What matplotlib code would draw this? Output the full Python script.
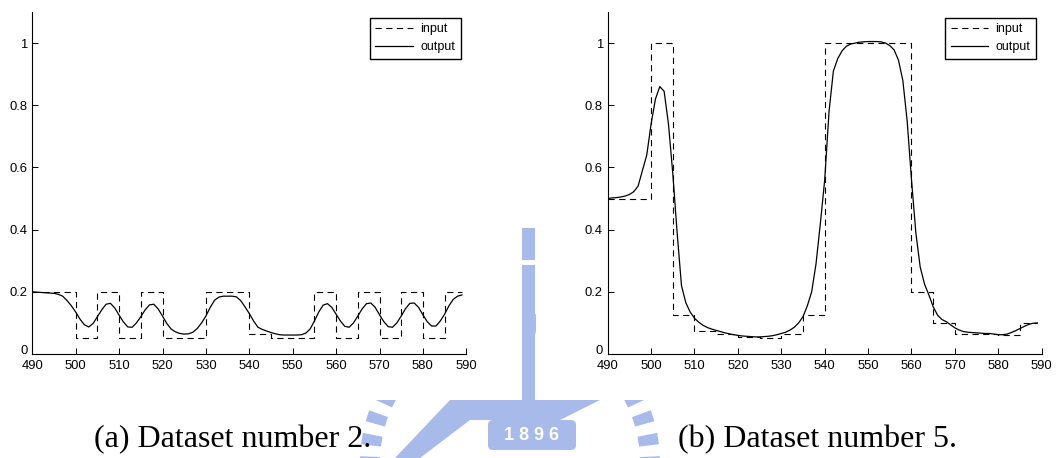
import numpy as np
import matplotlib
matplotlib.use("Agg")
import matplotlib.pyplot as plt
import matplotlib.transforms as mtransforms
from matplotlib.patches import Rectangle, FancyBboxPatch, Polygon

plt.rcParams["font.family"] = ["Liberation Sans", "DejaVu Sans"]
plt.rcParams["lines.scale_dashes"] = False

# ---- sample index shared by both datasets ----
x = np.arange(490, 590)

# ---- dataset 2 : step input (edges / levels) and network output ----
in2_edges = [490, 500, 505, 510, 515, 520, 530, 540, 545, 555, 560, 565, 570, 575, 580, 585, 589]
in2_levels = [0.2, 0.05, 0.2, 0.05, 0.2, 0.05, 0.2, 0.065, 0.05, 0.2, 0.05, 0.2, 0.05, 0.2, 0.05, 0.2]
out2 = [
    0.200, 0.199, 0.198, 0.197, 0.196, 0.195, 0.192, 0.186, 0.172, 0.155,
    0.135, 0.112, 0.094, 0.087, 0.098, 0.120, 0.142, 0.160, 0.163, 0.148,
    0.125, 0.103, 0.087, 0.086, 0.100, 0.120, 0.142, 0.158, 0.160, 0.145,
    0.122, 0.098, 0.080, 0.071, 0.066, 0.064, 0.065, 0.070, 0.082, 0.100,
    0.122, 0.150, 0.173, 0.183, 0.186, 0.186, 0.186, 0.184, 0.172, 0.152,
    0.130, 0.106, 0.086, 0.079, 0.074, 0.069, 0.065, 0.062, 0.061, 0.061,
    0.061, 0.061, 0.062, 0.067, 0.080, 0.106, 0.135, 0.157, 0.162, 0.150,
    0.128, 0.106, 0.089, 0.086, 0.100, 0.122, 0.145, 0.162, 0.164, 0.150,
    0.126, 0.104, 0.088, 0.086, 0.100, 0.122, 0.146, 0.163, 0.164, 0.150,
    0.126, 0.104, 0.090, 0.090, 0.106, 0.128, 0.155, 0.176, 0.186, 0.190,
]

# ---- dataset 5 ----
in5_edges = [490, 500, 505, 510, 515, 520, 525, 530, 535, 540, 560, 565, 570, 575, 580, 585, 589]
in5_levels = [0.5, 1.0, 0.125, 0.075, 0.065, 0.055, 0.05, 0.065, 0.125, 1.0, 0.2, 0.1, 0.065, 0.063, 0.06, 0.1]
out5 = [
    0.500, 0.502, 0.503, 0.505, 0.508, 0.513, 0.522, 0.540, 0.590, 0.640,
    0.740, 0.820, 0.860, 0.845, 0.740, 0.580, 0.390, 0.220, 0.165, 0.135,
    0.115, 0.102, 0.092, 0.085, 0.080, 0.076, 0.072, 0.068, 0.065, 0.062,
    0.060, 0.058, 0.057, 0.056, 0.055, 0.055, 0.056, 0.057, 0.059, 0.062,
    0.066, 0.070, 0.077, 0.086, 0.100, 0.120, 0.155, 0.200, 0.290, 0.420,
    0.560, 0.780, 0.910, 0.950, 0.975, 0.990, 0.997, 1.000, 1.003, 1.004,
    1.005, 1.005, 1.005, 1.004, 1.000, 0.992, 0.978, 0.945, 0.880, 0.750,
    0.560, 0.390, 0.280, 0.225, 0.190, 0.152, 0.125, 0.111, 0.104, 0.094,
    0.084, 0.077, 0.072, 0.070, 0.069, 0.068, 0.067, 0.066, 0.066, 0.064,
    0.062, 0.062, 0.064, 0.069, 0.075, 0.082, 0.089, 0.095, 0.099, 0.100,
]

x_ticks = [490, 500, 510, 520, 530, 540, 550, 560, 570, 580, 590]
y_ticks = [0, 0.2, 0.4, 0.6, 0.8, 1.0]
y_tick_labels = ["0", "0.2", "0.4", "0.6", "0.8", "1"]
captions = ["(a) Dataset number 2.", "(b) Dataset number 5."]

W, H = 1057, 458
fig = plt.figure(figsize=(W / 100, H / 100), dpi=100)

# ---- background layer: faint emblem behind the panels ----
bg = fig.add_axes([0, 0, 1, 1], zorder=-5)
bg.set_xlim(0, W)
bg.set_ylim(H, 0)
bg.axis("off")
wm = "#a8baea"
cx, cy = 510, 462
for ang in np.arange(0, 360, 9):
    a = np.deg2rad(ang)
    r0, r1 = 130, 150
    w = np.deg2rad(2.2)
    pts = [(cx + r0 * np.cos(a - w), cy + r0 * np.sin(a - w)),
           (cx + r1 * np.cos(a - w), cy + r1 * np.sin(a - w)),
           (cx + r1 * np.cos(a + w), cy + r1 * np.sin(a + w)),
           (cx + r0 * np.cos(a + w), cy + r0 * np.sin(a + w))]
    bg.add_patch(Polygon(pts, closed=True, color=wm, lw=0, zorder=1))
bg.add_patch(Polygon([(450, 400), (600, 400), (560, 420), (470, 420), (420, 458), (395, 458)],
                     closed=True, color=wm, lw=0, zorder=1))
bg.add_patch(Rectangle((522, 228), 13, 190, color=wm, lw=0, zorder=1))
bg.add_patch(Rectangle((522, 260), 13, 5, color="white", lw=0, zorder=2))
bg.add_patch(FancyBboxPatch((488, 420), 88, 30, boxstyle="round,pad=0,rounding_size=5",
                            color=wm, lw=0, zorder=2))
bg.text(532, 436, "1 8 9 6", color="white", fontsize=13, fontweight="bold",
        ha="center", va="center", zorder=3)
# white panel backgrounds
bg.add_patch(Rectangle((0, 0), 521, 400, color="white", lw=0, zorder=5))
bg.add_patch(Rectangle((536, 0), W - 536, 400, color="white", lw=0, zorder=5))


def panel(left_px, edges, levels, out):
    ax = fig.add_axes([left_px / W, 1 - 354 / H, 434 / W, 342 / H])
    ys = list(levels) + [levels[-1]]
    ax.step(edges, ys, where="post", color="black", lw=0.8, ls=(0, (4.5, 3.2)), label="input")
    ax.plot(x, out, color="black", lw=0.9, label="output")
    ax.set_xlim(490, 590)
    ax.set_ylim(0, 1.1)
    ax.set_xticks(x_ticks)
    ax.set_yticks(y_ticks)
    ax.set_yticklabels(y_tick_labels)
    for s in ("top", "right"):
        ax.spines[s].set_visible(False)
    for s in ("left", "bottom"):
        ax.spines[s].set_linewidth(0.8)
    ax.tick_params(direction="in", length=4, width=0.7, labelsize=9.4)
    ax.tick_params(axis="y", pad=3.5)
    ax.tick_params(axis="x", pad=4.2)
    # lift the "0" label a little so it clears the first x label
    zero = ax.get_yticklabels()[0]
    zero.set_transform(zero.get_transform() +
                       mtransforms.ScaledTranslation(0, 3 / 72, fig.dpi_scale_trans))
    leg = ax.legend(loc="upper right", fancybox=False, edgecolor="black", framealpha=1,
                    fontsize=9, handlelength=3.0, handletextpad=0.6, borderpad=0.45,
                    labelspacing=0.45, borderaxespad=0.45)
    leg.get_frame().set_linewidth(1.0)
    return ax


panel(32.3, in2_edges, in2_levels, out2)
panel(607.7, in5_edges, in5_levels, out5)

fig.text(94 / W, 1 - 447 / H, captions[0], family=["Liberation Serif"], fontsize=23,
         ha="left", va="baseline")
fig.text(678 / W, 1 - 447 / H, captions[1], family=["Liberation Serif"], fontsize=23,
         ha="left", va="baseline")

fig.savefig("out.png", dpi=100)
